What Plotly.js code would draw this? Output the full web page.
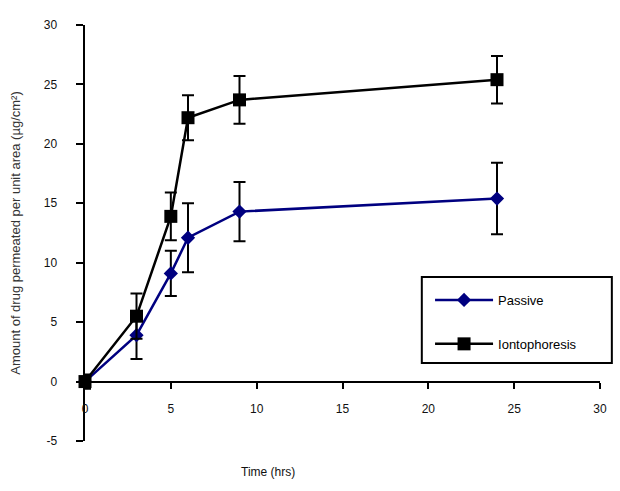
<!DOCTYPE html>
<html>
<head>
<meta charset="utf-8">
<script src="https://cdn.plot.ly/plotly-3.0.1.min.js"></script>
<style>html,body{margin:0;padding:0;background:#fff;}#chart{width:620px;height:491px;}</style>
</head>
<body>
<div id="chart"></div>
<script>
const time = [0, 3, 5, 6, 9, 24];
const passive = [0, 3.9, 9.1, 12.1, 14.3, 15.4];
const passiveErr = [0.5, 2.0, 1.9, 2.9, 2.5, 3.0];
const ionto = [0, 5.5, 13.9, 22.2, 23.7, 25.4];
const iontoErr = [0.6, 1.9, 2.0, 1.9, 2.0, 2.0];
const seriesNames = ['Passive', 'Iontophoresis'];
const xTicks = [0, 5, 10, 15, 20, 25, 30];
const yTicks = [-5, 0, 5, 10, 15, 20, 25, 30];

const errStyle = {type: 'data', visible: true, color: '#000', thickness: 2, width: 6};

const traces = [
  {
    x: time, y: passive, name: seriesNames[0], type: 'scatter', mode: 'lines+markers',
    legendgroup: 'a',
    line: {color: '#000080', width: 2.5},
    marker: {symbol: 'diamond', size: 11, color: '#000080'},
    error_y: Object.assign({array: passiveErr}, errStyle),
    cliponaxis: false
  },
  {
    x: time, y: ionto, name: seriesNames[1], type: 'scatter', mode: 'lines+markers',
    legendgroup: 'b',
    line: {color: '#000000', width: 2.5},
    marker: {symbol: 'square', size: 13, color: '#000000'},
    error_y: Object.assign({array: iontoErr}, errStyle),
    cliponaxis: false
  }
];

const font = {family: 'Liberation Sans, Arial, sans-serif', size: 12, color: '#111'};

const layout = {
  width: 620, height: 491,
  margin: {l: 85, r: 20, t: 25, b: 50},
  paper_bgcolor: '#fff', plot_bgcolor: '#fff',
  font: font,
  showlegend: true,
  legend: {
    x: 0.67, y: 0.375, xanchor: 'left', yanchor: 'top',
    borderwidth: 0, bgcolor: 'rgba(0,0,0,0)',
    font: {family: 'Liberation Sans, Arial, sans-serif', size: 13, color: '#000'},
    traceorder: 'grouped', tracegroupgap: 24, itemwidth: 58
  },
  shapes: [{
    type: 'rect', xref: 'paper', yref: 'paper',
    x0: 0.654, x1: 1.023, y0: 0.1875, y1: 0.394,
    line: {color: '#000', width: 2}, fillcolor: 'rgba(0,0,0,0)', layer: 'below'
  }],
  xaxis: {
    range: [0, 30], tickvals: xTicks, ticktext: xTicks.map(String),
    showgrid: false, zeroline: false, showline: true, linecolor: '#000', linewidth: 2.5,
    ticks: 'outside', ticklen: 6, tickwidth: 2, tickcolor: '#000',
    anchor: 'free', position: 5 / 35, ticklabelstandoff: 10,
    tickfont: font
  },
  yaxis: {
    range: [-5, 30], tickvals: yTicks, ticktext: yTicks.map(String),
    showgrid: false, zeroline: false, showline: true, linecolor: '#000', linewidth: 2.5,
    ticks: 'outside', ticklen: 7, tickwidth: 2, tickcolor: '#000',
    ticklabelstandoff: 16, tickfont: font,
    title: {text: 'Amount of drug permeated per unit area (µg/cm²)', standoff: 20,
            font: {family: 'Liberation Sans, Arial, sans-serif', size: 13, color: '#333'}}
  },
  annotations: [{
    text: 'Time (hrs)', xref: 'paper', yref: 'paper', x: 0.355, y: -0.075,
    xanchor: 'center', yanchor: 'middle', showarrow: false,
    font: {family: 'Liberation Sans, Arial, sans-serif', size: 12, color: '#111'}
  }]
};

Plotly.newPlot('chart', traces, layout, {displayModeBar: false, staticPlot: true});
</script>
</body>
</html>
